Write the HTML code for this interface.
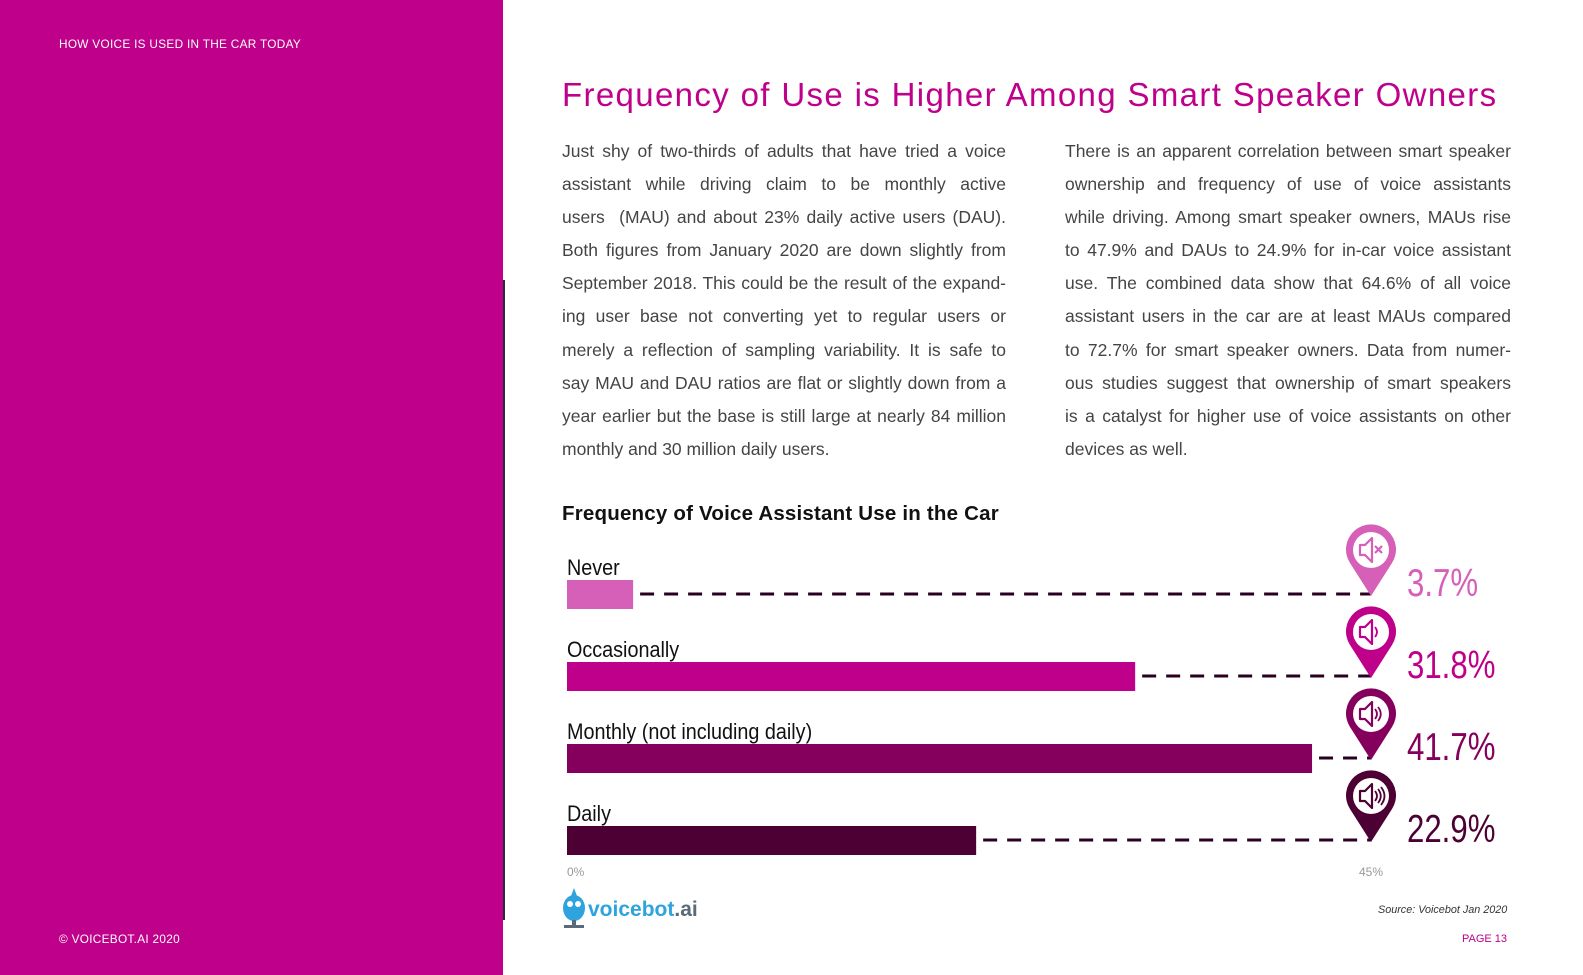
<!DOCTYPE html>
<html><head><meta charset="utf-8">
<style>
*{margin:0;padding:0;box-sizing:border-box}
body{width:1583px;height:975px;position:relative;background:#fff;font-family:"Liberation Sans",sans-serif;overflow:hidden}
#left{position:absolute;left:0;top:0;width:503px;height:975px;background:#BE008A}
.sm{position:absolute;color:#fff;font-size:11.8px;letter-spacing:0.3px}
#title{position:absolute;left:562px;top:76px;font-size:33px;color:#BE008A;letter-spacing:1.35px;white-space:nowrap}
.col{position:absolute;top:135px;width:444px;font-size:17.5px;color:#444;line-height:33.1px}
.col div{text-align:justify;text-align-last:justify;white-space:nowrap;height:33.1px}
.col div.l{text-align-last:left}
#ctitle{position:absolute;left:562px;top:502px;font-size:20.5px;font-weight:bold;color:#111;letter-spacing:0.2px}
</style></head><body>
<div id="left"></div>
<div style="position:absolute;left:503px;top:280px;width:2px;height:640px;background:#2a2a3a"></div>
<div class="sm" style="left:59px;top:37px">HOW VOICE IS USED IN THE CAR TODAY</div>
<div class="sm" style="left:59px;top:932px">© VOICEBOT.AI 2020</div>
<div id="title">Frequency of Use is Higher Among Smart Speaker Owners</div>
<div class="col" style="left:562px">
<div>Just shy of two-thirds of adults that have tried a voice</div>
<div>assistant while driving claim to be monthly active</div>
<div>users&nbsp; (MAU) and about 23% daily active users (DAU).</div>
<div>Both figures from January 2020 are down slightly from</div>
<div>September 2018. This could be the result of the expand-</div>
<div>ing user base not converting yet to regular users or</div>
<div>merely a reflection of sampling variability. It is safe to</div>
<div>say MAU and DAU ratios are flat or slightly down from a</div>
<div>year earlier but the base is still large at nearly 84 million</div>
<div class="l">monthly and 30 million daily users.</div>
</div>
<div class="col" style="left:1065px;width:446px">
<div>There is an apparent correlation between smart speaker</div>
<div>ownership and frequency of use of voice assistants</div>
<div>while driving. Among smart speaker owners, MAUs rise</div>
<div>to 47.9% and DAUs to 24.9% for in-car voice assistant</div>
<div>use. The combined data show that 64.6% of all voice</div>
<div>assistant users in the car are at least MAUs compared</div>
<div>to 72.7% for smart speaker owners. Data from numer-</div>
<div>ous studies suggest that ownership of smart speakers</div>
<div>is a catalyst for higher use of voice assistants on other</div>
<div class="l">devices as well.</div>
</div>
<div id="ctitle">Frequency of Voice Assistant Use in the Car</div>
<svg id="chart" width="1583" height="975" style="position:absolute;left:0;top:0"></svg>
<div style="position:absolute;left:1378px;top:904px;font-size:10.8px;font-style:italic;color:#333">Source: Voicebot Jan 2020</div>
<div style="position:absolute;left:1462px;top:933px;font-size:11px;color:#BE008A">PAGE 13</div>
<div style="position:absolute;left:562px;top:886px">
<svg width="140" height="45"><ellipse cx="12" cy="22" rx="11" ry="13" fill="#2ea3dd"/><path d="M12 2 L15 10 L9 10Z" fill="#2ea3dd"/><circle cx="8" cy="18" r="3" fill="#fff"/><circle cx="16" cy="18" r="3" fill="#fff"/><rect x="10" y="34" width="4" height="6" fill="#5a6a78"/><rect x="2" y="39" width="20" height="3" fill="#5a6a78"/>
<text x="26" y="30" font-family="Liberation Sans" font-weight="bold" font-size="21" fill="#2ea3dd">voicebot<tspan fill="#5a6a78">.ai</tspan></text></svg></div>
<script>
const categories=["Never","Occasionally","Monthly (not including daily)","Daily"];
const values=[3.7,31.8,41.7,22.9];
const labels=["3.7%","31.8%","41.7%","22.9%"];
const tickLabels=["0%","45%"];
const tickValues=[0,45];
const colors=["#d660b8","#BE008A","#85005c","#4d0033"];
const svg=document.getElementById('chart');
const NS="http://www.w3.org/2000/svg";
const x0=567,x1=1371,maxV=45;
const xs=v=>x0+(v/maxV)*(x1-x0);
const top0=580,step=82,bh=29;
function mk(t,a){const e=document.createElementNS(NS,t);for(const k in a)e.setAttribute(k,a[k]);svg.appendChild(e);return e;}
categories.forEach((c,i)=>{
  const y=top0+i*step;
  const lab=mk('text',{x:0,y:0,'font-size':22,fill:'#111',transform:`translate(567,${y-5}) scale(0.9,1)`});
  lab.textContent=c;
  
  
  const r=mk('rect',{x:x0,y:y,width:xs(values[i])-x0,height:bh,fill:colors[i]});
  
  
  const l=mk('line',{x1:xs(values[i])+7,x2:x1,y1:y+14,y2:y+14,stroke:'#2a0020','stroke-width':3,'stroke-dasharray':'14 10'});
  
  
  const py=y+16;
  const pin=mk('path',{d:`M${x1} ${py} L${x1-21} ${py-33} A25 25 0 1 1 ${x1+21} ${py-33} Z`,fill:colors[i]});
  
  
  const cy=py-46;
  mk('circle',{cx:x1,cy:cy,r:18,fill:'#fff'});
  mk('path',{d:`M${x1-11} ${cy-5} h5 l7 -7 v24 l-7 -7 h-5z`,fill:'none',stroke:colors[i],'stroke-width':2.2,'stroke-linejoin':'round'});
  if(i===0){mk('path',{d:`M${x1+4} ${cy-4} l7 7 M${x1+11} ${cy-4} l-7 7`,stroke:colors[i],'stroke-width':2.2});}
  else{for(let k=0;k<i;k++){mk('path',{d:`M${x1+4+k*3} ${cy-5-k*2} q${4+k*1.5} ${5+k*2} 0 ${10+k*4}`,fill:'none',stroke:colors[i],'stroke-width':1.8});}}
  const vt=mk('text',{x:0,y:0,'font-size':39,fill:colors[i],transform:`translate(1407,${y+16}) scale(0.8,1)`});
  vt.textContent=labels[i];
  
  
});
tickValues.forEach((v,i)=>{
  const t=mk('text',{x:xs(v),y:876,'font-size':12,fill:'#999','text-anchor':i?'middle':'start'});
  t.textContent=tickLabels[i];
  
  
});
</script>
</body></html>
